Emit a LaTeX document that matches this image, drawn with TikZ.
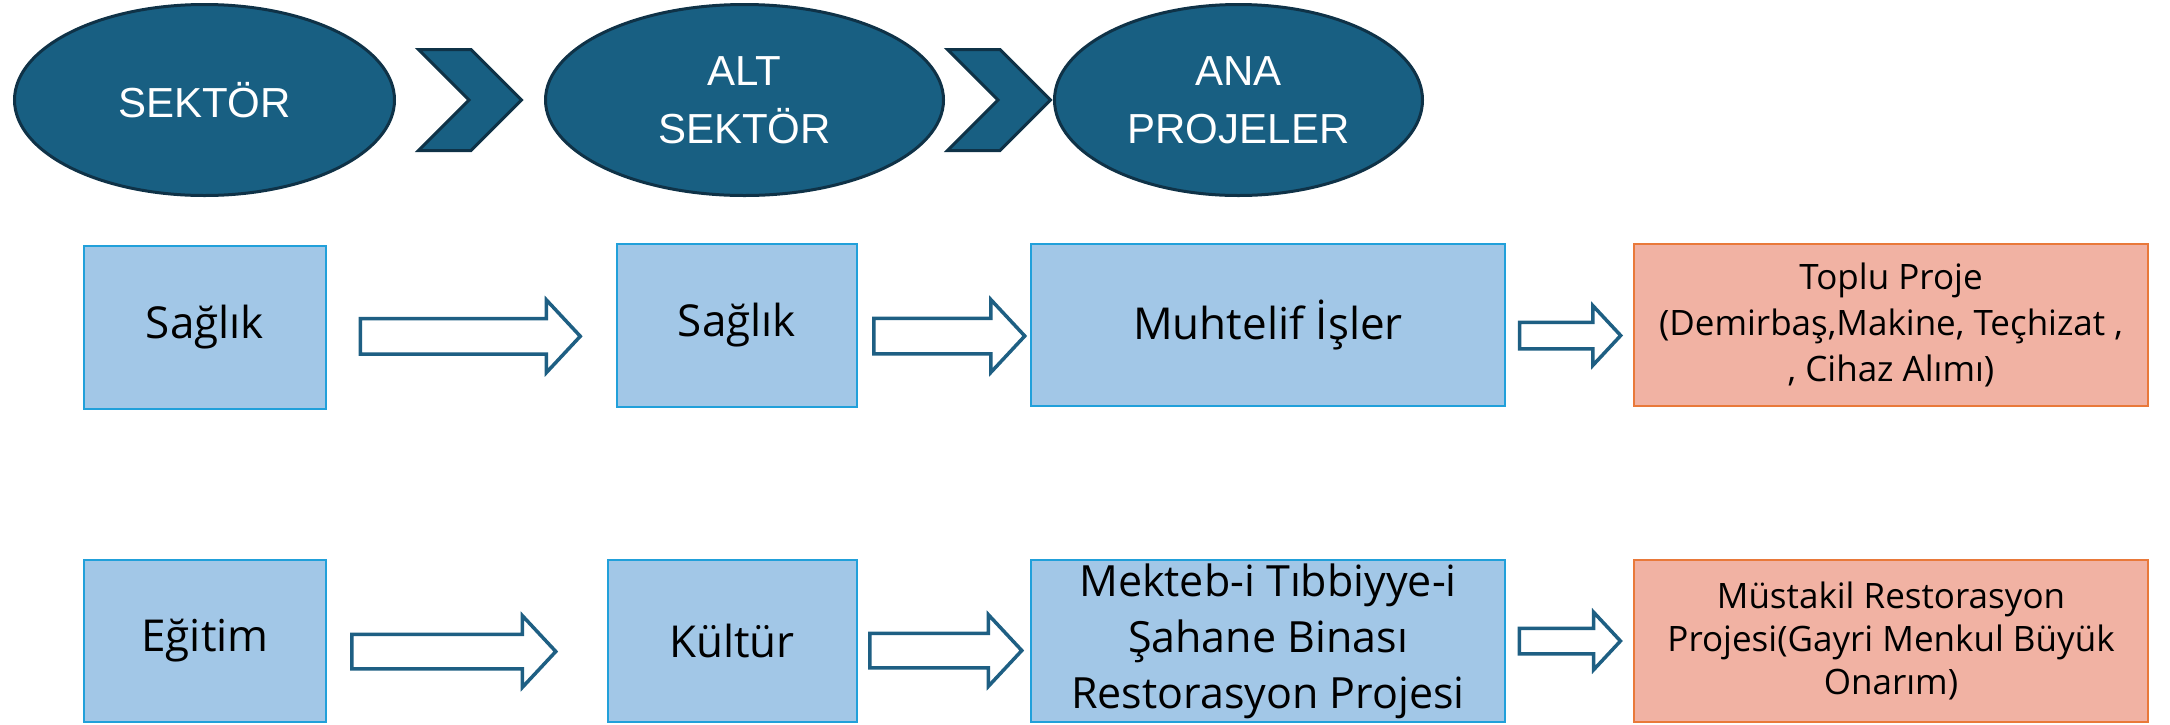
\documentclass[tikz,border=0pt]{standalone}
\usepackage{fontspec}
\setmainfont{Open Sans}
\newfontfamily\arialfont{Liberation Sans}
\usetikzlibrary{shapes.geometric, shapes.arrows, shapes.symbols, positioning}

\definecolor{ovalblue}{HTML}{185F82}
\definecolor{ovalline}{HTML}{0F3247}
\definecolor{boxblue}{HTML}{A2C7E7}
\definecolor{boxline}{HTML}{21A0DA}
\definecolor{boxpink}{HTML}{F1B2A3}
\definecolor{pinkline}{HTML}{E9793A}
\definecolor{arrowline}{HTML}{1E5F83}

\tikzset{
  oval/.style={ellipse, draw=ovalline, fill=ovalblue, line width=3pt, inner sep=0pt,
    text=white, align=center, font=\arialfont\fontsize{42}{58}\selectfont},
  chevron/.style={signal, signal from=west, signal to=east, signal pointer angle=90,
    draw=ovalline, fill=ovalblue, line width=3pt, inner sep=0pt,
    minimum width=103, minimum height=101},
  level/.style={rectangle, draw=boxline, fill=boxblue, line width=2pt, align=center,
    inner sep=0pt, font=\fontsize{44}{56}\selectfont},
  project/.style={rectangle, draw=pinkline, fill=boxpink, line width=2pt, align=center,
    inner sep=0pt, font=\fontsize{35}{46}\selectfont},
  flow/.style={single arrow, draw=arrowline, fill=white, line width=3.5pt,
    inner xsep=0pt, single arrow tip angle=94},
}

\begin{document}
\begin{tikzpicture}[x=1pt,y=-1pt]
\useasboundingbox (0,0) rectangle (2170,724);

% header
\node[oval, minimum width=380, minimum height=191] (sektor) at (204.5,100) {SEKTÖR};
\node[oval, minimum width=398, minimum height=191] (altsektor) at (744.5,100) {ALT\\SEKTÖR};
\node[oval, minimum width=368, minimum height=191] (anaproje) at (1238.5,100) {ANA\\PROJELER};
\path (sektor.east) -- (altsektor.west) node[midway, chevron] (chev1) {};
\path (altsektor.east) -- (anaproje.west) node[midway, chevron] (chev2) {};

% first row
\node[level, minimum width=242, minimum height=163] (saglik) at (205,327.5) {Sağlık};
\node[level, minimum width=240, minimum height=163] (altsaglik) at (737,325) {Sağlık};
\node[level, minimum width=474, minimum height=162] (muhtelif) at (1268,325) {Muhtelif İşler};
\node[project, minimum width=514, minimum height=162] (toplu) at (1891,325)
  {Toplu Proje\\(Demirbaş,Makine, Teçhizat ,\\, Cihaz Alımı)};

% second row
\node[level, minimum width=242, minimum height=162] (egitim) at (205,641) {Eğitim};
\node[level, minimum width=249, minimum height=162] (kultur) at (732,641) {Kültür};
\node[level, minimum width=474, minimum height=162, font=\fontsize{43}{56}\selectfont] (mekteb) at (1268,641)
  {Mekteb-i Tıbbiyye-i\\Şahane Binası\\Restorasyon Projesi};
\node[project, minimum width=514, minimum height=162, font=\fontsize{35}{43}\selectfont] (mustakil) at (1891,641)
  {Müstakil Restorasyon\\Projesi(Gayri Menkul Büyük\\Onarım)};

% block arrows
\path (saglik.east) -- (altsaglik.west) node[midway, flow, xshift=-9.5, yshift=-10,
  minimum height=220, inner ysep=16, single arrow head extend=18.5] {};
\path (altsaglik.east) -- (muhtelif.west) node[midway, flow, xshift=-3, yshift=-11,
  minimum height=151, inner ysep=16, single arrow head extend=18.5] {};
\path (muhtelif.east) -- (toplu.west) node[midway, flow, xshift=-5.5, yshift=-10.5,
  minimum height=101, inner ysep=11.5, single arrow head extend=16.5] {};
\path (egitim.east) -- (kultur.west) node[midway, flow, xshift=-21, yshift=-10.5,
  minimum height=204, inner ysep=15.5, single arrow head extend=18.5] {};
\path (kultur.east) -- (mekteb.west) node[midway, flow, xshift=-6, yshift=-9.5,
  minimum height=152, inner ysep=15.5, single arrow head extend=18.5] {};
\path (mekteb.east) -- (mustakil.west) node[midway, flow, xshift=-5.5,
  minimum height=101, inner ysep=11, single arrow head extend=16] {};
\end{tikzpicture}
\end{document}
